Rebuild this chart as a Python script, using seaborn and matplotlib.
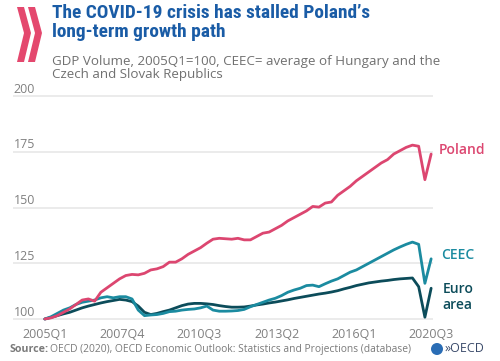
import numpy as np
import pandas as pd
import matplotlib
matplotlib.use("Agg")
import matplotlib.pyplot as plt
import matplotlib.patches as mpatches
import matplotlib.font_manager as fm
import seaborn as sns

# GDP volume, 2005Q1 = 100 (quarterly, 2005Q1 .. 2020Q3)
quarters = [f"{y}Q{q}" for y in range(2005, 2021) for q in range(1, 5)][:63]

poland = [100, 100.5, 101.5, 103, 104.5, 106.5, 108.5, 109, 108, 112,
          114, 116, 118, 119.5, 120, 119.8, 120.5, 122, 122.5, 123.5,
          125.5, 125.5, 127, 129, 130.5, 132, 134, 135.8, 136.2, 136,
          135.8, 136.2, 135.5, 135.5, 137, 138.5, 139, 140.5, 142, 144,
          145.5, 147, 148.5, 150.5, 150.2, 152, 152.5, 155.5, 157.5, 159.5,
          162, 164, 166, 168, 170, 171.5, 174, 175.5, 177, 178,
          177.5, 162.5, 174]
ceec = [100, 101, 102.5, 104, 105, 106.5, 107.5, 108, 108.5, 109.5,
        110, 109.5, 110, 110, 109, 104, 101.5, 101.8, 102, 102.5,
        103.3, 103.5, 104, 104.3, 104.5, 105, 105.8, 104, 103.5, 103.5,
        103.6, 103.8, 104.3, 105.5, 106.5, 107.5, 108.5, 109.3, 110.5, 112,
        113, 113.8, 115, 115.2, 114.5, 115.8, 117, 118, 119.5, 121,
        122, 123.5, 125, 126.5, 128, 129.5, 131, 132.3, 133.5, 134.5,
        133.5, 116, 127]
euro = [100, 100.7, 101.5, 102.3, 103, 104, 105, 105.8, 106.5, 107.2,
        107.8, 108.3, 108.8, 108.5, 107.8, 105.8, 103, 102, 102.5, 103.3,
        104, 105, 106, 106.7, 107, 107, 106.8, 106.5, 106, 105.6,
        105.3, 105.3, 105.4, 105.8, 106.3, 106.7, 107.2, 107.6, 108.1, 108.6,
        109.2, 109.7, 110.2, 110.7, 111.2, 111.6, 112.1, 112.7, 113.5, 114.2,
        115, 115.6, 116.2, 116.6, 117, 117.3, 117.7, 118, 118.2, 118.4,
        114.5, 100.8, 113.8]

series_names = ["Poland", "CEEC", "Euro area"]
tick_labels = ["2005Q1", "2007Q4", "2010Q3", "2013Q2", "2016Q1", "2020Q3"]
y_ticks = [100, 125, 150, 175, 200]

colors = {"Poland": "#dc4670", "CEEC": "#1b8ba0", "Euro area": "#0c4c5a"}

df = pd.DataFrame({"idx": np.arange(len(quarters)), "quarter": quarters,
                   "Poland": poland, "CEEC": ceec, "Euro area": euro})
long_df = df.melt(id_vars=["idx", "quarter"], value_vars=series_names,
                  var_name="series", value_name="gdp")

sns.set_style("white")
plt.rcParams["font.family"] = ["Open Sans", "DejaVu Sans"]

# narrowest bold family we can find for the title
installed = {f.name for f in fm.fontManager.ttflist}
title_family = "Roboto"
for cand in ["Roboto Condensed", "DejaVu Sans Condensed", "Liberation Sans Narrow",
             "Open Sans Condensed", "Roboto"]:
    if cand in installed:
        title_family = cand
        break

fig = plt.figure(figsize=(5, 3.61), dpi=100)
ax = fig.add_axes([0.026, 0.104, 0.84, 0.636])

# gridlines first so lines sit on top
for v in y_ticks:
    ax.axhline(v, color="#e6e6e6", lw=1.1, zorder=0)

sns.lineplot(data=long_df, x="idx", y="gdp", hue="series", hue_order=series_names[::-1],
             palette=colors, linewidth=2.0, legend=False, ax=ax)

ax.set_xlim(-5.1, 62.3)
ax.set_ylim(98, 201)
ax.set_xlabel("")
ax.set_ylabel("")
ax.set_yticks([])
ax.set_xticks(np.linspace(0, len(quarters) - 1, len(tick_labels)))
ax.set_xticklabels(tick_labels, color="#808080", fontsize=9)
ax.tick_params(axis="x", length=0, pad=3)
sns.despine(ax=ax, left=True, bottom=True)

# y labels sit above the gridlines, inside the plot
for v in y_ticks:
    ax.text(0.002, v + 0.2, str(v), transform=ax.get_yaxis_transform(),
            ha="left", va="bottom", color="#808080", fontsize=9)

# direct labels at the line ends
ax.text(63.3, 175.6, "Poland", color=colors["Poland"], fontsize=10,
        fontweight="semibold", va="center", ha="left", clip_on=False)
ax.text(63.6, 128.7, "CEEC", color=colors["CEEC"], fontsize=10,
        fontweight="semibold", va="center", ha="left", clip_on=False)
ax.text(63.8, 109.8, "Euro\narea", color=colors["Euro area"], fontsize=10,
        fontweight="semibold", va="center", ha="left", clip_on=False,
        linespacing=1.15)

# title block, font size fitted to the reference width (~314 px for line 1)
title = fig.text(0.104, 0.988, "The COVID-19 crisis has stalled Poland\u2019s\nlong-term growth path",
                 ha="left", va="top", fontsize=15, fontweight="bold", color="#1a5ca6",
                 family=[title_family, "DejaVu Sans"], linespacing=1.05)
renderer = fig.canvas.get_renderer()
w = title.get_window_extent(renderer).width
title.set_fontsize(min(15, 15 * 318 / w))

fig.text(0.104, 0.848, "GDP Volume, 2005Q1=100, CEEC= average of Hungary and the\nCzech and Slovak Republics",
         ha="left", va="top", fontsize=9.6, color="#707070", linespacing=1.05)

# pink chevrons (logo mark)
W, H = 500, 361
def chevron(x0):
    pts = [(x0, 7), (x0 + 7, 7), (x0 + 14, 33), (x0 + 7, 62), (x0, 62), (x0 + 7, 33)]
    return mpatches.Polygon([(x / W, 1 - y / H) for x, y in pts], closed=True,
                            transform=fig.transFigure, color="#e4486e", lw=0)
fig.patches.append(chevron(17))
fig.patches.append(chevron(28))

# source line
fig.text(0.018, 0.033, "Source:", ha="left", va="center", fontsize=7.7,
         fontweight="bold", color="#7a7a7a")
fig.text(0.101, 0.033, "OECD (2020), OECD Economic Outlook: Statistics and Projections (database)",
         ha="left", va="center", fontsize=7.4, color="#7a7a7a")

# OECD logo
fig.patches.append(mpatches.Ellipse((437 / W, 1 - 349 / H), 12 / W, 12 / H,
                                    transform=fig.transFigure, color="#2a6db5", lw=0))
fig.text(445 / W, 1 - 349 / H, "\u00bbOECD", ha="left", va="center", fontsize=9,
         color="#3a4a6a")

fig.savefig("out.png", dpi=100)
